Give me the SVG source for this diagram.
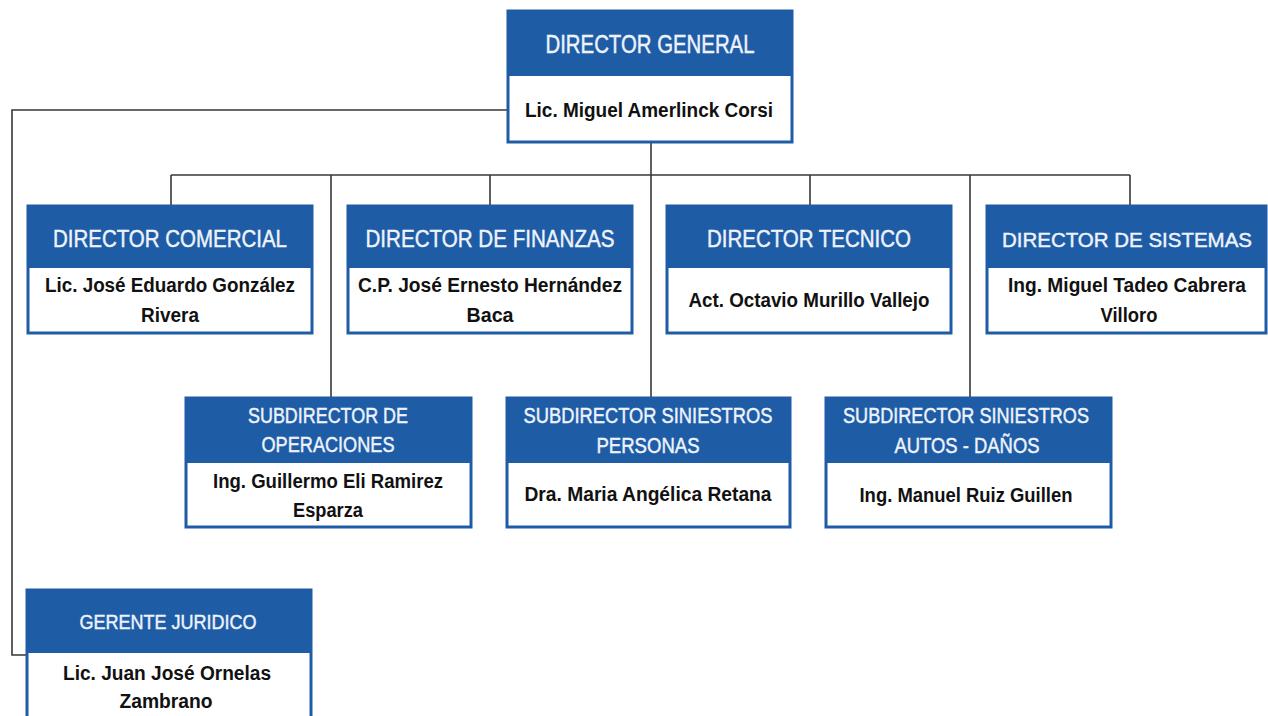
<svg xmlns="http://www.w3.org/2000/svg" width="1268" height="716" viewBox="0 0 1268 716">
<style>
.body{fill:#ffffff;stroke:#1f5ca6;stroke-width:3}
.head{fill:#1f5ca6}
.ht{font-family:"Liberation Sans Narrow","Liberation Sans",Arial,sans-serif;fill:#eef3fb;stroke:#eef3fb;stroke-width:0.45;text-anchor:middle}
.nt{font-family:"Liberation Sans Narrow","Liberation Sans",Arial,sans-serif;fill:#111111;font-weight:bold;text-anchor:middle;font-size:20px}
.ln{fill:none;stroke:#3a3632;stroke-width:1.6}
</style>
<rect width="1268" height="716" fill="#ffffff"/>
<g id="connectors">
<polyline class="ln" points="507,110 12,110 12,655 26,655"/>
<line class="ln" x1="651" y1="143" x2="651" y2="397"/>
<line class="ln" x1="171" y1="175" x2="1130" y2="175"/>
<line class="ln" x1="171" y1="175" x2="171" y2="205"/>
<line class="ln" x1="490" y1="175" x2="490" y2="205"/>
<line class="ln" x1="810" y1="175" x2="810" y2="205"/>
<line class="ln" x1="1130" y1="175" x2="1130" y2="205"/>
<line class="ln" x1="331" y1="175" x2="331" y2="397"/>
<line class="ln" x1="970" y1="175" x2="970" y2="397"/>
</g>
<g id="director-general">
<rect class="body" x="508" y="11" width="284" height="131"/>
<rect class="head" x="507" y="10" width="286" height="66"/>
<text class="ht" x="650" y="53" font-size="25" textLength="209" lengthAdjust="spacingAndGlyphs">DIRECTOR GENERAL</text>
<text class="nt" x="649" y="117" textLength="248" lengthAdjust="spacingAndGlyphs">Lic. Miguel Amerlinck Corsi</text>
</g>
<g id="director-comercial">
<rect class="body" x="28" y="206" width="284" height="127"/>
<rect class="head" x="27" y="205" width="286" height="63"/>
<text class="ht" x="170" y="247" font-size="24" textLength="234" lengthAdjust="spacingAndGlyphs">DIRECTOR COMERCIAL</text>
<text class="nt" x="170" y="292" textLength="250" lengthAdjust="spacingAndGlyphs">Lic. José Eduardo González</text>
<text class="nt" x="170" y="322" textLength="58" lengthAdjust="spacingAndGlyphs">Rivera</text>
</g>
<g id="director-finanzas">
<rect class="body" x="348" y="206" width="284" height="127"/>
<rect class="head" x="347" y="205" width="286" height="63"/>
<text class="ht" x="490" y="247" font-size="24" textLength="249" lengthAdjust="spacingAndGlyphs">DIRECTOR DE FINANZAS</text>
<text class="nt" x="490" y="292" textLength="264" lengthAdjust="spacingAndGlyphs">C.P. José Ernesto Hernández</text>
<text class="nt" x="490" y="322" textLength="47" lengthAdjust="spacingAndGlyphs">Baca</text>
</g>
<g id="director-tecnico">
<rect class="body" x="667" y="206" width="284" height="127"/>
<rect class="head" x="666" y="205" width="286" height="63"/>
<text class="ht" x="809" y="247" font-size="24" textLength="204" lengthAdjust="spacingAndGlyphs">DIRECTOR TECNICO</text>
<text class="nt" x="809" y="307" textLength="241" lengthAdjust="spacingAndGlyphs">Act. Octavio Murillo Vallejo</text>
</g>
<g id="director-sistemas">
<rect class="body" x="987" y="206" width="279" height="127"/>
<rect class="head" x="986" y="205" width="281" height="63"/>
<text class="ht" x="1127" y="247" font-size="21" textLength="250" lengthAdjust="spacingAndGlyphs">DIRECTOR DE SISTEMAS</text>
<text class="nt" x="1127" y="292" textLength="238" lengthAdjust="spacingAndGlyphs">Ing. Miguel Tadeo Cabrera</text>
<text class="nt" x="1129" y="322" textLength="57" lengthAdjust="spacingAndGlyphs">Villoro</text>
</g>
<g id="subdirector-operaciones">
<rect class="body" x="186" y="398" width="285" height="129"/>
<rect class="head" x="185" y="397" width="287" height="66"/>
<text class="ht" x="328" y="423" font-size="22" textLength="160" lengthAdjust="spacingAndGlyphs">SUBDIRECTOR DE</text>
<text class="ht" x="328" y="452" font-size="22" textLength="133" lengthAdjust="spacingAndGlyphs">OPERACIONES</text>
<text class="nt" x="328" y="488" textLength="230" lengthAdjust="spacingAndGlyphs">Ing. Guillermo Eli Ramirez</text>
<text class="nt" x="328" y="517" textLength="70" lengthAdjust="spacingAndGlyphs">Esparza</text>
</g>
<g id="subdirector-personas">
<rect class="body" x="507" y="398" width="283" height="129"/>
<rect class="head" x="506" y="397" width="285" height="66"/>
<text class="ht" x="648" y="423" font-size="22" textLength="249" lengthAdjust="spacingAndGlyphs">SUBDIRECTOR SINIESTROS</text>
<text class="ht" x="648" y="453" font-size="22" textLength="103" lengthAdjust="spacingAndGlyphs">PERSONAS</text>
<text class="nt" x="648" y="501" textLength="247" lengthAdjust="spacingAndGlyphs">Dra. Maria Angélica Retana</text>
</g>
<g id="subdirector-autos">
<rect class="body" x="826" y="398" width="285" height="129"/>
<rect class="head" x="825" y="397" width="287" height="66"/>
<text class="ht" x="966" y="423" font-size="22" textLength="246" lengthAdjust="spacingAndGlyphs">SUBDIRECTOR SINIESTROS</text>
<text class="ht" x="967" y="453" font-size="22" textLength="145" lengthAdjust="spacingAndGlyphs">AUTOS - DAÑOS</text>
<text class="nt" x="966" y="502" textLength="213" lengthAdjust="spacingAndGlyphs">Ing. Manuel Ruiz Guillen</text>
</g>
<g id="gerente-juridico">
<rect class="body" x="27" y="590" width="284" height="140"/>
<rect class="head" x="26" y="589" width="286" height="64"/>
<text class="ht" x="168" y="629" font-size="21" textLength="177" lengthAdjust="spacingAndGlyphs">GERENTE JURIDICO</text>
<text class="nt" x="167" y="680" textLength="208" lengthAdjust="spacingAndGlyphs">Lic. Juan José Ornelas</text>
<text class="nt" x="166" y="708" textLength="93" lengthAdjust="spacingAndGlyphs">Zambrano</text>
</g>
</svg>
